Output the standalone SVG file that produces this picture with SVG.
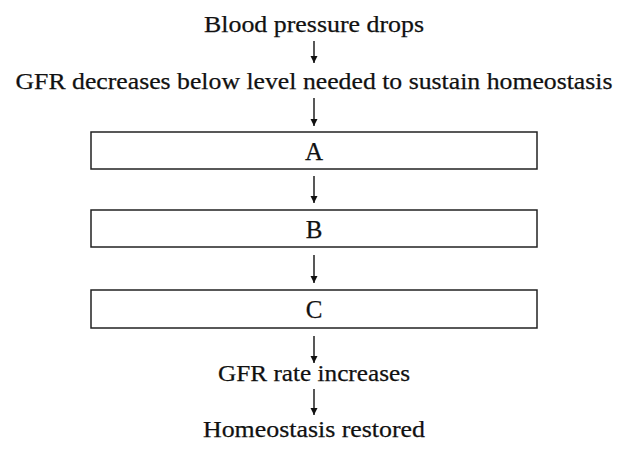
<svg xmlns="http://www.w3.org/2000/svg" width="632" height="461" viewBox="0 0 632 461">
<defs>
<style>
text{font-family:"Liberation Serif","Times New Roman",serif;font-size:24px;fill:#111;text-anchor:middle;stroke:#111;stroke-width:0.25}
.lbl{font-size:25px}
.box{fill:#fff;stroke:#222;stroke-width:1.5}
.c{stroke:#111;stroke-width:1.4;fill:none;marker-end:url(#ah)}
</style>
<marker id="ah" viewBox="0 0 10 10" refX="10" refY="5" markerWidth="7" markerHeight="8" markerUnits="userSpaceOnUse" orient="auto"><path d="M0,0 L10,5 L0,10 Z" fill="#111"/></marker>
</defs>
<rect width="632" height="461" fill="#fff"/>
<g id="n1"><text x="314" y="32" textLength="220" lengthAdjust="spacingAndGlyphs">Blood pressure drops</text></g>
<g id="n2"><text x="314" y="89" textLength="597" lengthAdjust="spacingAndGlyphs">GFR decreases below level needed to sustain homeostasis</text></g>
<g id="A"><rect class="box" x="91" y="132" width="446" height="37"/><text class="lbl" x="314" y="160">A</text></g>
<g id="B"><rect class="box" x="91" y="210" width="446" height="37"/><text class="lbl" x="314" y="238">B</text></g>
<g id="C"><rect class="box" x="91" y="290" width="446" height="38"/><text class="lbl" x="314" y="318">C</text></g>
<g id="n3"><text x="314" y="381" textLength="192" lengthAdjust="spacingAndGlyphs">GFR rate increases</text></g>
<g id="n4"><text x="314" y="437" textLength="222" lengthAdjust="spacingAndGlyphs">Homeostasis restored</text></g>
<g id="connectors">
<line class="c" x1="314" y1="41" x2="314" y2="63"/>
<line class="c" x1="314" y1="98" x2="314" y2="126"/>
<line class="c" x1="314" y1="176" x2="314" y2="203"/>
<line class="c" x1="314" y1="255" x2="314" y2="283"/>
<line class="c" x1="314" y1="336" x2="314" y2="363"/>
<line class="c" x1="314" y1="389" x2="314" y2="415"/>
</g>
</svg>
